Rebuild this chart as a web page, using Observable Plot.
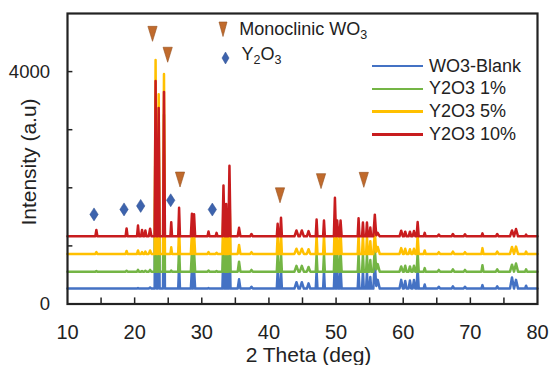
<!DOCTYPE html>
<html>
<head>
<meta charset="utf-8">
<script src="https://cdn.jsdelivr.net/npm/d3@7"></script>
<script src="https://cdn.jsdelivr.net/npm/@observablehq/plot@0.6"></script>
<style>
  html, body { margin: 0; padding: 0; background: #fff; }
  #wrap { position: relative; width: 550px; height: 365px; overflow: hidden; font-family: "Liberation Sans", Arial, Helvetica, sans-serif; color: #222; }
  #chart { position: absolute; left: 0; top: 0; }
  .lg { position: absolute; white-space: nowrap; }
  .lgrow { display: flex; align-items: center; height: 22.9px; line-height: 22.9px; font-size: 18px; }
  .lgline { width: 51px; height: 2.5px; margin-right: 6px; }
  .mk { position: absolute; font-size: 18px; line-height: 20px; white-space: nowrap; }
  .mk sub { font-size: 12.5px; vertical-align: -3.5px; line-height: 0; }
  .ytitle { position: absolute; left: 29px; top: 162px; font-size: 21px; line-height: 22px; white-space: nowrap; transform: translate(-50%, -50%) rotate(-90deg); }
</style>
</head>
<body>
<div id="wrap">
  <div id="chart"></div>
</div>
<script>
// ---------- data ----------
const seriesNames = ["WO3-Blank", "Y2O3 1%", "Y2O3 5%", "Y2O3 10%"];
const seriesColors = ["#4472c4", "#74b545", "#ffc000", "#c81c1e"];
const baselines = [265, 557, 862, 1165];

// peak positions (2θ, deg), half widths (deg) and heights above baseline per series
const peakPos       = [14.3, 18.8, 20.5, 21.1, 21.6, 22.3, 23.12, 23.58, 24.37, 25.45, 26.62, 28.53, 28.85, 31.0, 32.2, 33.23, 33.63, 34.12, 35.55, 37.4, 41.3, 41.8, 44.1, 44.9, 45.9, 47.1, 48.2, 49.83, 50.17, 50.67, 53.35, 54.0, 54.6, 55.1, 55.77, 56.2, 59.7, 60.3, 61.0, 61.6, 62.15, 63.2, 65.3, 67.4, 69.2, 71.8, 74.0, 76.2, 76.8, 78.3];
const peakHalfWidth = [0.15, 0.15, 0.15, 0.15, 0.15, 0.2, 0.14, 0.14, 0.14, 0.12, 0.13, 0.16, 0.16, 0.15, 0.15, 0.16, 0.13, 0.16, 0.2, 0.2, 0.13, 0.13, 0.3, 0.3, 0.25, 0.13, 0.13, 0.16, 0.16, 0.16, 0.13, 0.13, 0.13, 0.13, 0.22, 0.3, 0.25, 0.2, 0.2, 0.2, 0.16, 0.15, 0.2, 0.2, 0.2, 0.15, 0.2, 0.3, 0.3, 0.15];
const heightBlank   = [0, 0, 10, 0, 0, 20, 2600, 2000, 2300, 0, 420, 330, 330, 10, 0, 700, 500, 900, 160, 30, 300, 320, 110, 110, 90, 300, 300, 500, 350, 350, 300, 300, 280, 200, 450, 150, 150, 130, 140, 150, 350, 70, 30, 40, 30, 60, 40, 190, 150, 50];
const height1pct    = [10, 15, 30, 10, 15, 30, 3000, 2400, 2700, 20, 430, 340, 340, 20, 10, 750, 520, 1000, 170, 30, 300, 320, 100, 100, 80, 300, 300, 550, 350, 350, 300, 300, 280, 200, 400, 130, 90, 100, 90, 100, 330, 60, 30, 40, 30, 110, 40, 120, 140, 40];
const height5pct    = [30, 50, 60, 30, 40, 60, 3336, 2750, 3095, 114, 450, 360, 360, 30, 20, 800, 540, 1100, 155, 30, 320, 340, 90, 90, 80, 320, 320, 600, 380, 380, 320, 320, 300, 220, 380, 120, 100, 90, 80, 90, 330, 60, 30, 40, 30, 100, 40, 120, 126, 40];
const height10pct   = [110, 135, 185, 110, 100, 130, 2675, 2210, 2486, 243, 490, 387, 380, 83, 60, 873, 558, 1216, 146, 40, 215, 318, 100, 100, 90, 289, 272, 662, 272, 272, 312, 238, 238, 150, 372, 60, 97, 80, 80, 90, 245, 60, 30, 40, 35, 50, 40, 100, 126, 30];
const seriesHeights = [heightBlank, height1pct, height5pct, height10pct];

// reference markers
const monoclinicX = [22.66, 24.92, 26.76, 41.65, 47.76, 54.13];
const monoclinicY = [4650, 4290, 2142, 1871, 2115, 2137];
const y2o3X = [13.95, 18.42, 20.9, 25.37, 31.57];
const y2o3Y = [1542, 1628, 1688, 1785, 1626];

// axes
const xDomain = [10, 80];
const yDomain = [0, 5000];
const xTickLabels = [10, 20, 30, 40, 50, 60, 70, 80];
const xTickMarks = [15, 20, 25, 30, 35, 40, 45, 50, 55, 60, 65, 70, 75];
const yTickLabels = [0, 4000];
const yTickMarks = [1000, 2000, 3000, 4000];
const xTitle = "2 Theta (deg)";
const yTitle = "Intensity (a.u)";

// ---------- build line table from the peak lists ----------
const rows = [];
seriesNames.forEach((name, s) => {
  const hs = seriesHeights[s];
  const xs = new Set([xDomain[0], xDomain[1]]);
  peakPos.forEach((p, i) => {
    if (hs[i] > 0) { xs.add(+(p - peakHalfWidth[i]).toFixed(3)); xs.add(p); xs.add(+(p + peakHalfWidth[i]).toFixed(3)); }
  });
  [...xs].sort((a, b) => a - b).forEach(x => {
    let y = baselines[s];
    peakPos.forEach((p, i) => {
      const t = 1 - Math.abs(x - p) / peakHalfWidth[i];
      if (t > 0) y += hs[i] * t;
    });
    rows.push({series: name, x, y});
  });
});
const monoData = monoclinicX.map((x, i) => ({x, y: monoclinicY[i]}));
const y2o3Data = y2o3X.map((x, i) => ({x, y: y2o3Y[i]}));

// custom symbols
const triDown = {draw(ctx, size) { const r = Math.sqrt(size / Math.PI); ctx.moveTo(-0.66 * r, -1.07 * r); ctx.lineTo(0.66 * r, -1.07 * r); ctx.lineTo(0, 1.07 * r); ctx.closePath(); }};
const tallDiamond = {draw(ctx, size) { const r = Math.sqrt(size / Math.PI); ctx.moveTo(0, -0.93 * r); ctx.lineTo(0.6 * r, 0); ctx.lineTo(0, 0.93 * r); ctx.lineTo(-0.6 * r, 0); ctx.closePath(); }};

const chart = Plot.plot({
  width: 550,
  height: 365,
  marginLeft: 67,
  marginRight: 13,
  marginTop: 13,
  marginBottom: 61.5,
  x: {domain: xDomain},
  y: {domain: yDomain},
  color: {domain: seriesNames, range: seriesColors},
  style: {fontFamily: "'Liberation Sans', Arial, Helvetica, sans-serif", background: "white", color: "#222", overflow: "visible"},
  marks: [
    Plot.lineY(rows, {x: "x", y: "y", z: "series", stroke: "series", strokeWidth: 2.5, strokeLinejoin: "round"}),
    Plot.dot(monoData, {x: "x", y: "y", symbol: triDown, r: 7, fill: "#c06a2c", stroke: "#96501f", strokeWidth: 0.6}),
    Plot.dot(y2o3Data, {x: "x", y: "y", symbol: tallDiamond, r: 7, fill: "#3d63ad", stroke: "#2e4f90", strokeWidth: 0.5}),
    Plot.ruleX(xTickMarks, {x: d => d, y1: 0, y2: 105, stroke: "#222", strokeWidth: 1.5}),
    Plot.ruleY(yTickMarks, {y: d => d, x1: 10, x2: 10.8, stroke: "#222", strokeWidth: 1.5}),
    Plot.frame({stroke: "#222", strokeWidth: 2.2}),
    Plot.axisX({ticks: xTickLabels, tickSize: 0, tickPadding: 21, fontSize: 20, label: null, tickFormat: d => String(d), fill: "#222"}),
    Plot.axisY({ticks: yTickLabels, tickSize: 0, tickPadding: 17.5, fontSize: 18.5, label: null, tickFormat: d => String(d), fill: "#222"}),
    Plot.text([xTitle], {frameAnchor: "bottom", dy: 43, dx: 6, lineAnchor: "top", fontSize: 21, fill: "#222"})
  ]
});
document.getElementById("chart").appendChild(chart);

// ---------- y title and legends (HTML overlay) ----------
const wrap = document.getElementById("wrap");
const yt = document.createElement("div");
yt.className = "ytitle";
yt.textContent = yTitle;
wrap.appendChild(yt);

const lg = document.createElement("div");
lg.className = "lg";
lg.style.left = "372px";
lg.style.top = "54.5px";
seriesNames.forEach((name, i) => {
  const row = document.createElement("div");
  row.className = "lgrow";
  const ln = document.createElement("span");
  ln.className = "lgline";
  ln.style.background = seriesColors[i];
  const tx = document.createElement("span");
  tx.textContent = name;
  row.appendChild(ln);
  row.appendChild(tx);
  lg.appendChild(row);
});
wrap.appendChild(lg);

function addMarkerLegend(svgShape, cx, cy, w, h, textHtml, tx, ty) {
  const s = document.createElementNS("http://www.w3.org/2000/svg", "svg");
  s.setAttribute("width", w + 2);
  s.setAttribute("height", h + 2);
  s.style.position = "absolute";
  s.style.left = (cx - w / 2 - 1) + "px";
  s.style.top = (cy - h / 2 - 1) + "px";
  s.innerHTML = svgShape(w, h);
  wrap.appendChild(s);
  const t = document.createElement("div");
  t.className = "mk";
  t.style.left = tx + "px";
  t.style.top = ty + "px";
  t.innerHTML = textHtml;
  wrap.appendChild(t);
}
addMarkerLegend((w, h) => `<path d="M1,1 L${w + 1},1 L${w / 2 + 1},${h + 1} Z" fill="#c06a2c" stroke="#96501f" stroke-width="0.6"/>`,
  223.3, 29.5, 8, 14.5, "Monoclinic WO<sub>3</sub>", 239.3, 19);
addMarkerLegend((w, h) => `<path d="M${w / 2 + 1},1 L${w + 1},${h / 2 + 1} L${w / 2 + 1},${h + 1} L1,${h / 2 + 1} Z" fill="#3d63ad" stroke="#2e4f90" stroke-width="0.5"/>`,
  225, 57.5, 7, 12, "Y<sub>2</sub>O<sub>3</sub>", 241.5, 44);
</script>
</body>
</html>
